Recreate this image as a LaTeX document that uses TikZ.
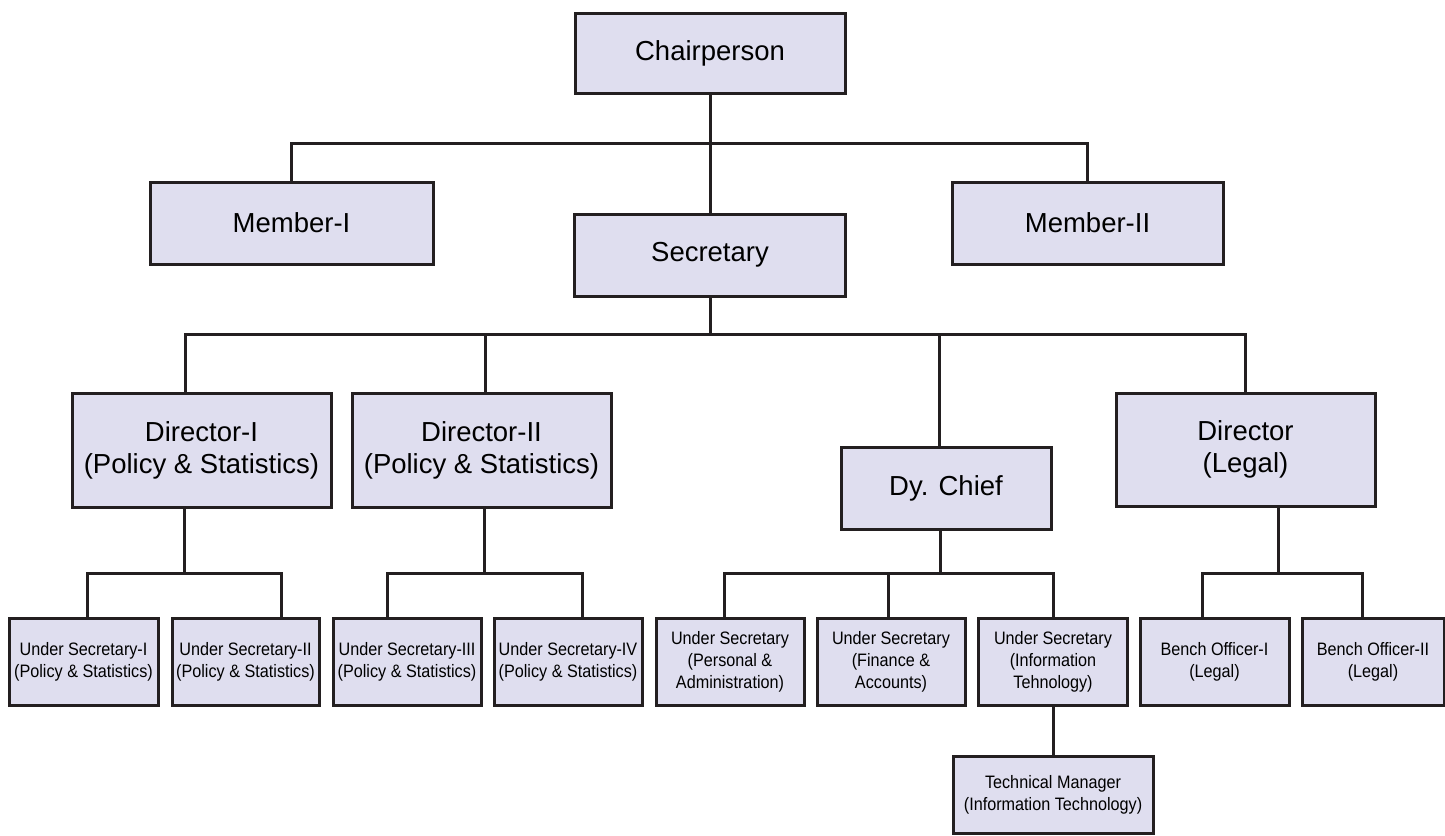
\documentclass[tikz,border=0pt]{standalone}
\usepackage{fontspec}
\setmainfont{Liberation Sans}
\newfontfamily\narrowsf{Liberation Sans}[FakeStretch=0.9]
\usetikzlibrary{calc}
\definecolor{BoxFill}{RGB}{223,222,239}
\definecolor{LineGray}{RGB}{35,31,32}

\begin{document}
\begin{tikzpicture}[x=1pt,y=-1pt,
        bigbox/.style={draw=LineGray,fill=BoxFill,line width=3pt,inner sep=0pt,align=center,font=\fontsize{27.5}{32}\selectfont},
        smallbox/.style={draw=LineGray,fill=BoxFill,line width=3pt,inner sep=0pt,align=center,minimum width=148pt,minimum height=87pt,font=\narrowsf\fontsize{18}{22}\selectfont},
        link/.style={draw=LineGray,line width=3pt}]
        \useasboundingbox (0,0) rectangle (1445,835);
        \node[bigbox,minimum width=270pt,minimum height=80pt] (chair) at (710,53) {Chairperson};
        \node[bigbox,minimum width=283pt,minimum height=82pt] (mem1) at (291.5,223) {Member-I};
        \node[bigbox,minimum width=271pt,minimum height=82pt] (mem2) at (1087.5,223) {Member-II};
        \node[bigbox,minimum width=271pt,minimum height=82pt] (sec) at (710,255) {Secretary};
        \node[bigbox,minimum width=259pt,minimum height=114pt] (dir1) at (201.5,450) {Director-I\\(Policy \& Statistics)};
        \node[bigbox,minimum width=259pt,minimum height=114pt] (dir2) at (481.5,450) {Director-II\\(Policy \& Statistics)};
        \node[bigbox,minimum width=210pt,minimum height=82pt] (dychief) at (946,488) {Dy. Chief};
        \node[bigbox,minimum width=259pt,minimum height=113pt] (dirlegal) at (1245.5,449.5) {Director\\(Legal)};
        \node[smallbox,minimum width=149pt] (us1) at (83.5,661.5) {Under Secretary-I\\(Policy \& Statistics)};
        \node[smallbox,minimum width=147pt] (us2) at (245.5,661.5) {Under Secretary-II\\(Policy \& Statistics)};
        \node[smallbox] (us3) at (407,661.5) {Under Secretary-III\\(Policy \& Statistics)};
        \node[smallbox] (us4) at (568,661.5) {Under Secretary-IV\\(Policy \& Statistics)};
        \node[smallbox] (uspa) at (730,661.5) {Under Secretary\\(Personal \&\\Administration)};
        \node[smallbox] (usfa) at (891,661.5) {Under Secretary\\(Finance \&\\Accounts)};
        \node[smallbox,minimum width=149pt] (usit) at (1053,661.5) {Under Secretary\\(Information\\Tehnology)};
        \node[smallbox,minimum width=149pt] (bench1) at (1214.5,661.5) {Bench Officer-I\\(Legal)};
        \node[smallbox,minimum width=142pt] (bench2) at (1373,661.5) {Bench Officer-II\\(Legal)};
        \node[smallbox,minimum width=200pt,minimum height=77pt] (techman) at (1053,794.5) {Technical Manager\\(Information Technology)};
        \draw[link] (chair.south) -- (sec.north);
        \coordinate (top) at (710,143);
        \coordinate (mid) at (710,334);
        \draw[link] (mem1.north) |- (top) -| (mem2.north);
        \draw[link] (sec.south) -- (mid);
        \draw[link] ([xshift=-16pt]dir1.north) |- (mid) -| (dirlegal.north);
        \draw[link] ([xshift=3.5pt]dir2.north) |- (mid);
        \draw[link] ([xshift=-7pt]dychief.north) |- (mid);
        \draw[link] ([xshift=-17pt]dir1.south) -- ++(0,65) coordinate (j1);
        \draw[link] ([xshift=3.5pt]us1.north) |- (j1) -| ([xshift=35.5pt]us2.north);
        \draw[link] ([xshift=2.5pt]dir2.south) -- ++(0,65) coordinate (j2);
        \draw[link] ([xshift=-20pt]us3.north) |- (j2) -| ([xshift=14pt]us4.north);
        \draw[link] ([xshift=-6pt]dychief.south) -- ++(0,43) coordinate (j3);
        \draw[link] ([xshift=-6pt]uspa.north) |- (j3) -| (usit.north);
        \draw[link] ([xshift=-3pt]usfa.north) -- ++(0,-45);
        \draw[link] (usit.south) -- (techman.north);
        \draw[link] ([xshift=32.5pt]dirlegal.south) -- ++(0,66) coordinate (j4);
        \draw[link] ([xshift=-12.5pt]bench1.north) |- (j4) -| ([xshift=-11pt]bench2.north);
\end{tikzpicture}
\end{document}
